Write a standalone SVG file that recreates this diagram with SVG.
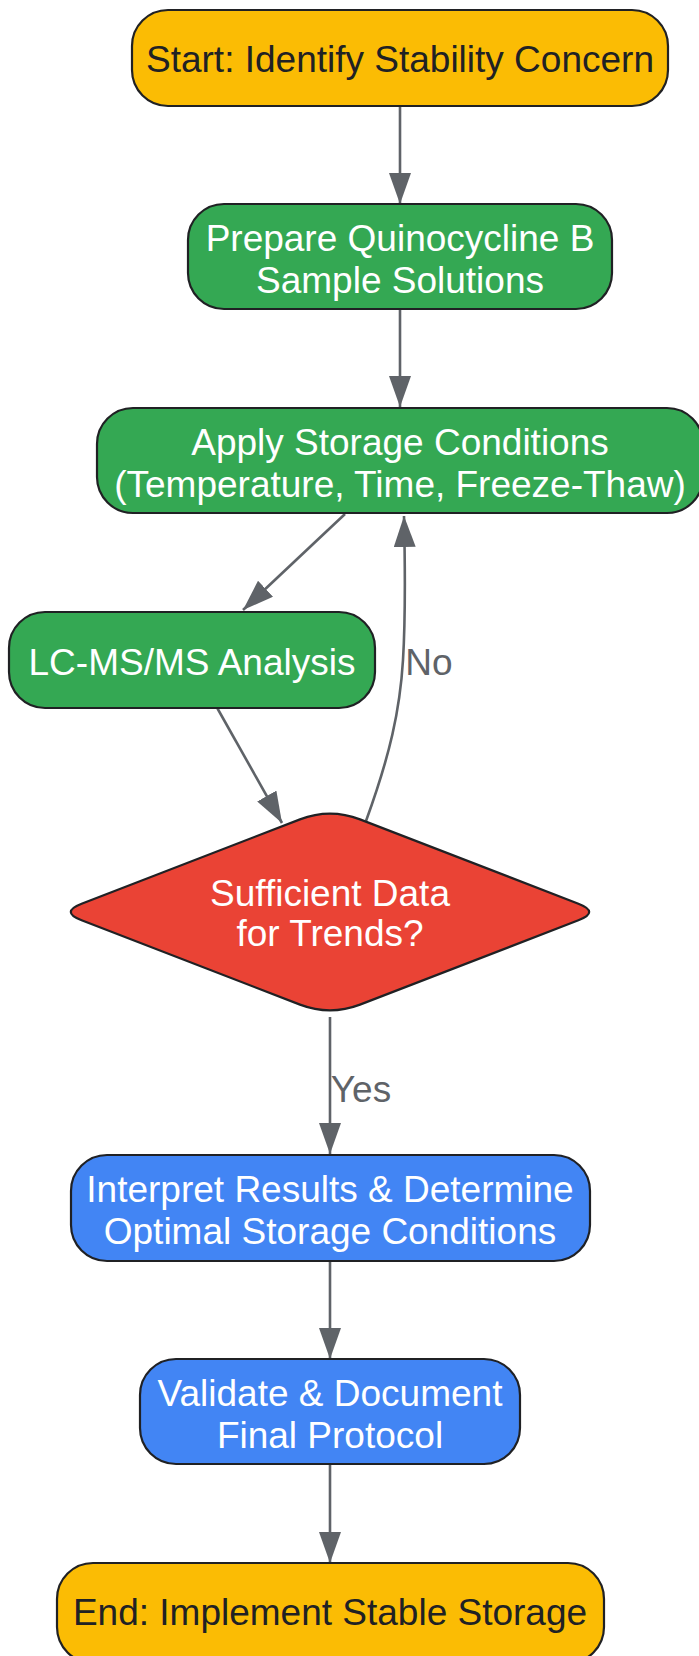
<svg xmlns="http://www.w3.org/2000/svg" width="699" height="1656" viewBox="0 0 699 1656">
<style>
.node{stroke:#202124;stroke-width:2.2}
.y{fill:#FBBC04}.g{fill:#34A853}.r{fill:#EA4335}.b{fill:#4285F4}
.t{font-family:"Liberation Sans",Arial,sans-serif;font-size:37px;text-anchor:middle}
.dk{fill:#202124}.wh{fill:#ffffff}
.e{fill:none;stroke:#5F6368;stroke-width:2.6}
.lbl{font-family:"Liberation Sans",Arial,sans-serif;font-size:37px;fill:#5F6368;text-anchor:middle}
</style>
<defs>
<marker id="ah" markerUnits="userSpaceOnUse" viewBox="0 0 31 22" markerWidth="31" markerHeight="22" refX="31" refY="11" orient="auto">
<path d="M0,0 L31,11 L0,22 z" fill="#5F6368"/>
</marker>
</defs>
<rect width="699" height="1656" fill="#ffffff"/>
<g id="connectors">
<path class="e" d="M400,106 L400,204" marker-end="url(#ah)"/>
<path class="e" d="M400,309 L400,407" marker-end="url(#ah)"/>
<path class="e" d="M345,514 L243,610" marker-end="url(#ah)"/>
<path class="e" d="M217.5,708.5 L282,823" marker-end="url(#ah)"/>
<path class="e" d="M366,821 C390,755 400,710 403,660 C406,610 405,560 404,516" marker-end="url(#ah)"/>
<path class="e" d="M330,1017 L330,1154" marker-end="url(#ah)"/>
<path class="e" d="M330,1261 L330,1359" marker-end="url(#ah)"/>
<path class="e" d="M330,1464 L330,1563" marker-end="url(#ah)"/>
<text class="lbl" x="429" y="675">No</text>
<text class="lbl" x="361" y="1102">Yes</text>
</g>
<g id="start">
<rect class="node y" x="132" y="10" width="536" height="96" rx="36"/>
<text class="t dk" x="400" y="72">Start: Identify Stability Concern</text>
</g>
<g id="prepare">
<rect class="node g" x="188" y="204" width="424" height="105" rx="36"/>
<text class="t wh" x="400" y="251">Prepare Quinocycline B</text>
<text class="t wh" x="400" y="293">Sample Solutions</text>
</g>
<g id="apply">
<rect class="node g" x="97" y="408" width="606" height="105" rx="36"/>
<text class="t wh" x="400" y="455">Apply Storage Conditions</text>
<text class="t wh" x="400" y="497">(Temperature, Time, Freeze-Thaw)</text>
</g>
<g id="lcms">
<rect class="node g" x="9" y="612" width="366" height="96" rx="36"/>
<text class="t wh" x="192" y="675">LC-MS/MS Analysis</text>
</g>
<g id="decision">
<path class="node r" d="M300,819.4 Q330,808 360,819.4 L578.4,903.7 Q600,912 578.4,920.3 L360,1004.6 Q330,1016 300,1004.6 L81.6,920.3 Q60,912 81.6,903.7 Z"/>
<text class="t wh" x="330" y="906">Sufficient Data</text>
<text class="t wh" x="330" y="946">for Trends?</text>
</g>
<g id="interpret">
<rect class="node b" x="71" y="1155" width="519" height="106" rx="36"/>
<text class="t wh" x="330" y="1202">Interpret Results &amp; Determine</text>
<text class="t wh" x="330" y="1244">Optimal Storage Conditions</text>
</g>
<g id="validate">
<rect class="node b" x="140" y="1359" width="380" height="105" rx="36"/>
<text class="t wh" x="330" y="1406">Validate &amp; Document</text>
<text class="t wh" x="330" y="1448">Final Protocol</text>
</g>
<g id="end">
<rect class="node y" x="57" y="1563" width="547" height="100" rx="36"/>
<text class="t dk" x="330" y="1625">End: Implement Stable Storage</text>
</g>
</svg>
